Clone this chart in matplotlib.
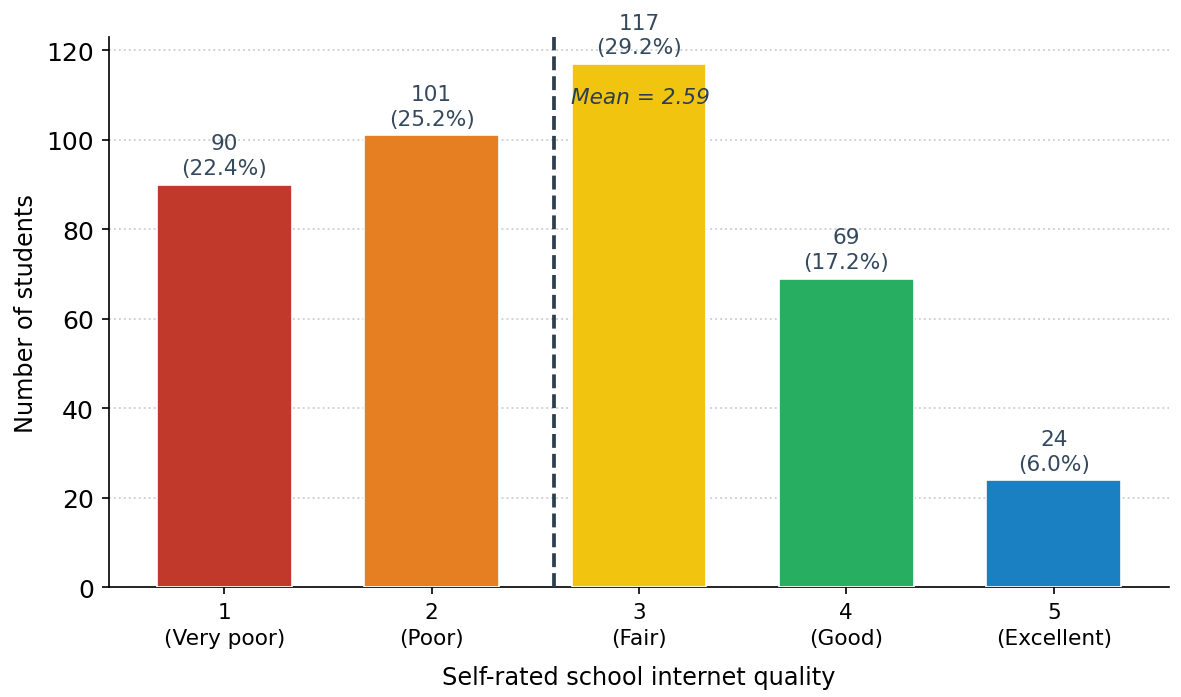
import matplotlib
matplotlib.use("Agg")
import matplotlib.pyplot as plt

categories = ["1\n(Very poor)", "2\n(Poor)", "3\n(Fair)", "4\n(Good)", "5\n(Excellent)"]
ratings = [1, 2, 3, 4, 5]
counts = [90, 101, 117, 69, 24]
colors = ["#c0392b", "#e67e22", "#f1c40f", "#27ae60", "#1a80c2"]
mean_value = 2.59

total = sum(counts)
fig, ax = plt.subplots(figsize=(7.874, 4.653), dpi=150)
bars = ax.bar(ratings, counts, width=0.65, color=colors, edgecolor="white", linewidth=0.8, zorder=3)
for r, c in zip(ratings, counts):
    ax.annotate(f"{c}\n({c/total*100:.1f}%)", xy=(r, c), xytext=(0, 3), textcoords="offset points",
                ha="center", va="bottom", fontsize=10.4, color="#34495e", linespacing=1.3)
ax.axvline(mean_value, color="#2c3e50", linestyle="--", linewidth=1.8, zorder=4)
ax.text(mean_value + 0.08, 109.6, f"Mean = {mean_value:.2f}", fontsize=10.4, style="italic",
        color="#2c3e50", ha="left", va="center", zorder=5)
ax.set_ylim(0, 117 * 1.05)
ax.set_xticks(ratings)
ax.set_xticklabels(categories, fontsize=10.4, linespacing=1.4)
ax.tick_params(axis="y", labelsize=12)
ax.set_xlabel("Self-rated school internet quality", fontsize=11.5, labelpad=8)
ax.set_ylabel("Number of students", fontsize=11.5)
ax.yaxis.grid(True, linestyle=":", color="#d0d0d0", linewidth=0.9, zorder=0)
ax.set_axisbelow(True)
ax.spines["top"].set_visible(False)
ax.spines["right"].set_visible(False)
plt.subplots_adjust(left=0.092, right=0.99, top=0.945, bottom=0.157)
fig.savefig("out.png", dpi=150)
